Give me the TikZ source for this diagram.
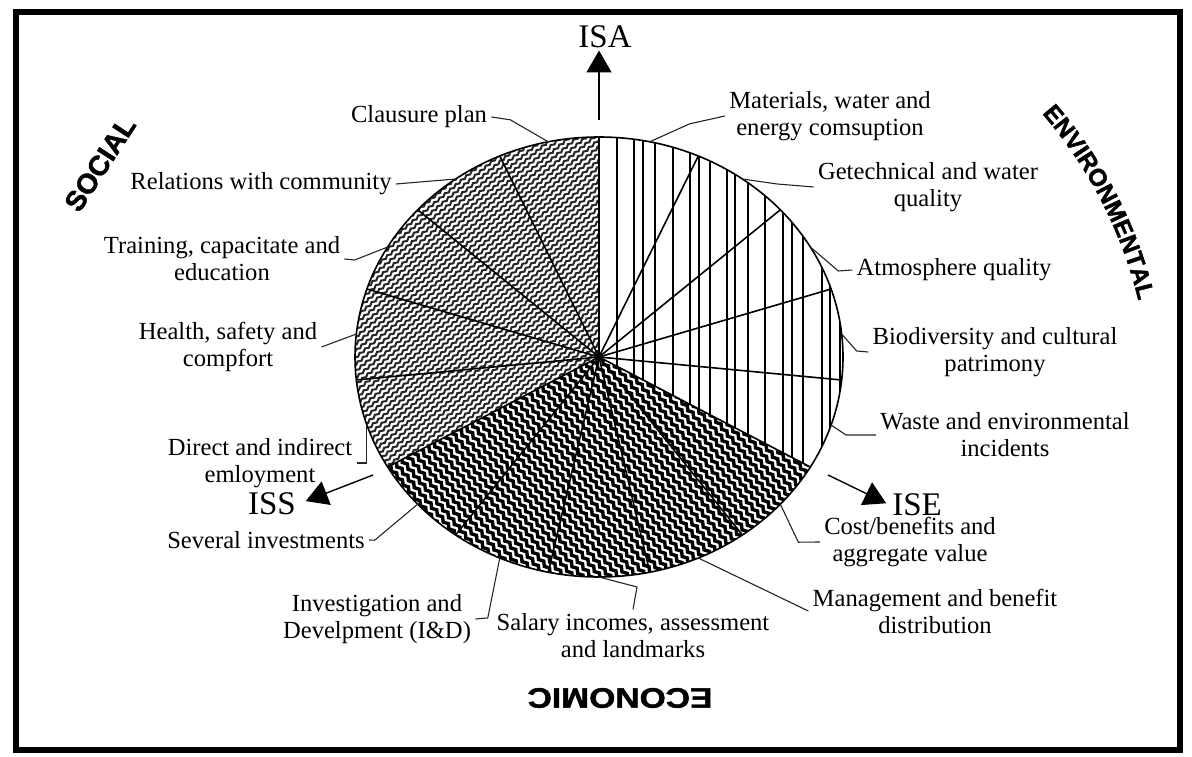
\documentclass[tikz,border=0pt]{standalone}
\usepackage{fontspec}
\usepackage{graphicx}
\setmainfont{Liberation Serif}
\setsansfont{Liberation Sans}
\newfontfamily\ringsans[FakeBold=1.6]{Liberation Sans}
\usetikzlibrary{arrows.meta,decorations.pathmorphing,decorations.text}

\newcommand{\lblfont}{\fontsize{12.3pt}{13.5pt}\selectfont}
\newcommand{\ringfont}{\ringsans\bfseries\fontsize{12.2pt}{12.2pt}\selectfont}

\begin{document}
\begin{tikzpicture}[
  x=0.5pt, y=0.5pt,
  lbl/.style={font=\lblfont, align=center, inner sep=2pt},
  leader/.style={line width=0.55pt, black!85},
  pieline/.style={line width=0.8pt},
  envline/.style={line width=0.75pt},
  socwave/.style={line width=1pt, black!85, decorate,
    decoration={snake, amplitude=0.5pt, segment length=3.5pt}},
  ecowave/.style={line width=1.7pt, decorate,
    decoration={snake, amplitude=0.75pt, segment length=4.5pt}},
  indarrow/.style={line width=0.7pt, -{Triangle[width=12.5pt,length=11pt]}},
  ind/.style={font=\fontsize{16.5pt}{16.5pt}\selectfont, inner sep=1pt},
  ringword/.style={font=\ringsans\bfseries\fontsize{14pt}{14pt}\selectfont}
]
\useasboundingbox (0,0) rectangle (1192,756);
\draw[line width=3pt] (16,6) rectangle (1180,744);

\coordinate (C) at (599,399);

% environmental: vertical lines
\begin{scope}
  \clip (C) -- ([shift={(90:244 and 220)}]C)
    arc[start angle=90, end angle=-30, x radius=244, y radius=220] -- cycle;
  \foreach \x in {617,634,643,655,673,690,699,710,727,735,748,765,783,792,803,822,830,840}
    \draw[envline] (\x,250) -- (\x,640);
\end{scope}

% social: fine waves
\begin{scope}
  \clip (C) -- ([shift={(90:244 and 220)}]C)
    arc[start angle=90, end angle=210, x radius=244, y radius=220] -- cycle;
  \begin{scope}[shift={(C)}, rotate=40]
    \foreach \k in {-48,...,48}
      \draw[socwave] (-260,\k*5.2) -- (260,\k*5.2);
  \end{scope}
\end{scope}

% economic: dark waves
\begin{scope}
  \clip (C) -- ([shift={(-30:244 and 220)}]C)
    arc[start angle=-30, end angle=-150, x radius=244, y radius=220] -- cycle;
  \begin{scope}[shift={(C)}, rotate=-50]
    \foreach \k in {-37,...,37}
      \draw[ecowave] (-260,\k*7) -- (260,\k*7);
  \end{scope}
\end{scope}

\draw[pieline] (C) ellipse[x radius=244, y radius=220];
\foreach \a in {90,66,...,-246}
  \draw[pieline] (C) -- ([shift={(\a:244 and 220)}]C);
\foreach \k [evaluate=\k as \a using 102-24*\k] in {1,...,15}
  \coordinate (p\k) at ([shift={(\a:244 and 220)}]C);

% labels
\node[lbl] (mat) at (830,640) {Materials, water and\\energy comsuption};
\node[lbl] (geo) at (928,569) {Getechnical and water\\quality};
\node[lbl] (atm) at (954,486) {Atmosphere quality};
\node[lbl] (bio) at (995,404) {Biodiversity and cultural\\patrimony};
\node[lbl] (was) at (1005,321) {Waste and environmental\\incidents};
\node[lbl] (cost) at (910,214) {Cost/benefits and\\aggregate value};
\node[lbl] (man) at (935,145) {Management and benefit\\distribution};
\node[lbl] (sal) at (633,120) {Salary incomes, assessment\\and landmarks};
\node[lbl] (inv) at (377,137) {Investigation and\\Develpment (I\&D)};
\node[lbl] (sev) at (266,216) {Several investments};
\node[lbl] (dir) at (260,293) {Direct and indirect\\emloyment};
\node[lbl] (hea) at (228,409) {Health, safety and\\compfort};
\node[lbl] (tra) at (222,497) {Training, capacitate and\\education};
\node[lbl] (rel) at (261,572) {Relations with community};
\node[lbl] (cla) at (419,639) {Clausure plan};

% leaders
\draw[leader] (p1) -- ++(40,18) -- (mat.west);
\draw[leader] (p2) -- ++(35,-5) -- (geo.west);
\draw[leader] (p3) -- ++(28,-24) -- (atm.west);
\draw[leader] (p4) -- ++(15,-17) -- (bio.west);
\draw[leader] (p5) -- ++(15,-10) -- (was.west);
\draw[leader] (p6) -- ++(18,-38) -- (cost.west);
\draw[leader] (p7) -- (man.west);
\draw[leader] (p8) -- ++(38,-10) -- (sal.north);
\draw[leader] (p9) -- ++(-12,-60) -- (inv.east);
\draw[leader] (p10) -- ++(-43,-36) -- (sev.east);
\draw[leader] (p11) |- (dir.east);
\draw[leader] (p12) -- (hea.east);
\draw[leader] (p13) -- ++(-33,-13) -- (tra.east);
\draw[leader] (p14) -- (rel.east);
\draw[leader] (p15) -- ++(-38,22) -- (cla.east);

% indicators
\node[ind] (isa) at (605,719) {ISA};
\coordinate (atop) at (599,636);
\draw[indarrow] (atop) -- (atop |- isa.south);
\node[ind] (iss) at (272,252) {ISS};
\coordinate (sfoot) at (373,281);
\draw[indarrow, shorten >=4pt] (sfoot) -- (iss.east);
\node[ind] (ise) at (917,251) {ISE};
\coordinate (efoot) at (828,281);
\draw[indarrow, shorten >=2pt] (efoot) -- (ise.west);

% dimension names
\node[rotate=57, ringword] (soc) at (100,592) {SOCIAL};
\node[rotate=180, ringword] (eco) at (620,58) {\scalebox{1.2}[1]{ECONOMIC}};
\coordinate (E0) at (704,350);
\path[decorate, decoration={text along path, text={|\ringfont|ENVIRONMENTAL}, text align=center}]
  ([shift={(41:447)}]E0) arc[start angle=41, end angle=13.5, radius=447];
\end{tikzpicture}
\end{document}
